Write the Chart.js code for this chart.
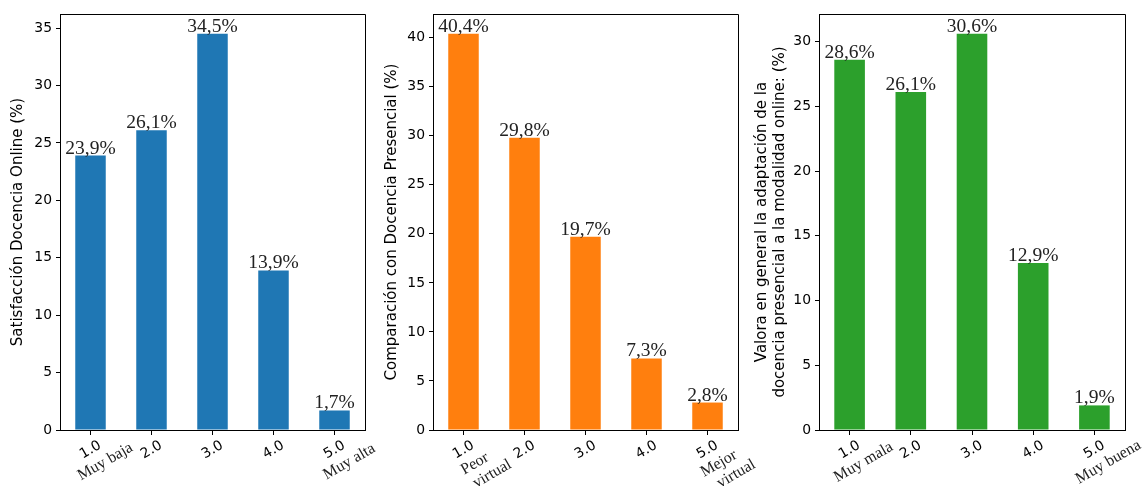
<!DOCTYPE html>
<html>
<head>
<meta charset="utf-8">
<script src="https://cdn.jsdelivr.net/npm/chart.js@4"></script>
<style>
  body { margin: 0; background: #fff; width: 1146px; height: 486px; overflow: hidden; position: relative; }
  canvas { position: absolute; top: 0; }
</style>
</head>
<body>
<canvas id="satChart" width="390" height="486" style="left:0px"></canvas>
<canvas id="compChart" width="390" height="486" style="left:370px"></canvas>
<canvas id="adaptChart" width="406" height="486" style="left:740px"></canvas>
<script>
// categories / tick labels
const categories = ['1.0', '2.0', '3.0', '4.0', '5.0'];
const satNotes = [['Muy baja'], [], [], [], ['Muy alta']];
const compNotes = [['Peor', 'virtual'], [], [], [], ['Mejor', 'virtual']];
const adaptNotes = [['Muy mala'], [], [], [], ['Muy buena']];

// values (%)
const satValues = [23.9, 26.1, 34.5, 13.9, 1.7];
const compValues = [40.4, 29.8, 19.7, 7.3, 2.8];
const adaptValues = [28.6, 26.1, 30.6, 12.9, 1.9];

const sansFont = "'DejaVu Sans', sans-serif";
const serifFont = "'Liberation Serif', 'DejaVu Serif', serif";

// bar value labels, e.g. 23,9%
const valueLabels = {
  id: 'valueLabels',
  afterDatasetsDraw(chart) {
    const ctx = chart.ctx;
    const ds = chart.data.datasets[0];
    ctx.save();
    ctx.font = '19.5px ' + serifFont;
    ctx.fillStyle = '#222';
    ctx.textAlign = 'center';
    ctx.textBaseline = 'alphabetic';
    chart.getDatasetMeta(0).data.forEach((bar, i) => {
      ctx.fillText(ds.data[i].toFixed(1).replace('.', ',') + '%', bar.x, bar.y - 2);
    });
    ctx.restore();
  }
};

// top + right spines
const frame = {
  id: 'frame',
  afterDraw(chart) {
    const a = chart.chartArea;
    const ctx = chart.ctx;
    ctx.save();
    ctx.strokeStyle = '#000';
    ctx.lineWidth = 1;
    ctx.beginPath();
    ctx.moveTo(a.left, a.top + 0.5);
    ctx.lineTo(a.right + 0.5, a.top + 0.5);
    ctx.lineTo(a.right + 0.5, a.bottom);
    ctx.stroke();
    ctx.restore();
  }
};

// rotated x tick labels: number in sans, notes in serif
const rotatedTicks = {
  id: 'rotatedTicks',
  afterDraw(chart, args, opts) {
    const ctx = chart.ctx;
    const xs = chart.scales.x;
    ctx.save();
    ctx.fillStyle = '#000';
    ctx.textAlign = 'center';
    ctx.textBaseline = 'middle';
    categories.forEach((lab, i) => {
      const x = xs.getPixelForValue(i);
      const y = chart.chartArea.bottom + 20;
      ctx.save();
      ctx.translate(x, y);
      ctx.rotate(-Math.PI / 6);
      ctx.font = '13.9px ' + sansFont;
      ctx.fillText(lab, 0, 0);
      ctx.font = '16px ' + serifFont;
      ctx.fillStyle = '#222';
      opts.notes[i].forEach((n, k) => {
        ctx.fillText(n, opts.shift[k], 17.5 * (k + 1));
      });
      ctx.restore();
    });
    ctx.restore();
  }
};

function makeChart(id, values, color, title, notes, shift, yWidth, padRight, titlePad) {
  const maxVal = Math.max(...values) * 1.05;
  return new Chart(id, {
    type: 'bar',
    data: {
      labels: categories,
      datasets: [{
        data: values,
        backgroundColor: color,
        borderWidth: 0,
        categoryPercentage: 1.0,
        barPercentage: 0.5
      }]
    },
    options: {
      responsive: false,
      animation: false,
      devicePixelRatio: 1,
      layout: { padding: { left: 0, top: 14, right: padRight, bottom: 0 } },
      plugins: {
        legend: { display: false },
        tooltip: { enabled: false },
        rotatedTicks: { notes: notes, shift: shift }
      },
      scales: {
        x: {
          offset: true,
          grid: { display: true, offset: false, drawOnChartArea: false, drawTicks: true, tickLength: 5, color: '#000' },
          border: { display: true, color: '#000', width: 1 },
          ticks: { display: false },
          afterFit: (s) => { s.height = 56; }
        },
        y: {
          min: 0,
          max: maxVal,
          grid: { display: true, drawOnChartArea: false, drawTicks: true, tickLength: 4, color: '#000' },
          border: { display: true, color: '#000', width: 1 },
          ticks: {
            stepSize: 5,
            includeBounds: false,
            color: '#000',
            padding: 4,
            font: { family: sansFont, size: 13.9 }
          },
          title: {
            display: true,
            text: title,
            color: '#000',
            padding: { top: titlePad, bottom: 0 },
            font: { family: sansFont, size: 15 }
          },
          afterFit: (s) => { s.width = yWidth; }
        }
      }
    },
    plugins: [valueLabels, frame, rotatedTicks]
  });
}

makeChart('satChart', satValues, '#1f77b4', 'Satisfacción Docencia Online (%)',
  satNotes, [7], 60, 25, 9);
makeChart('compChart', compValues, '#ff7f0e', 'Comparación con Docencia Presencial (%)',
  compNotes, [3, 13], 63, 22, 13);
makeChart('adaptChart', adaptValues, '#2ca02c',
  ['Valora en general la adaptación de la', 'docencia presencial a la modalidad online: (%)'],
  adaptNotes, [6], 79, 21, 13);
</script>
</body>
</html>
